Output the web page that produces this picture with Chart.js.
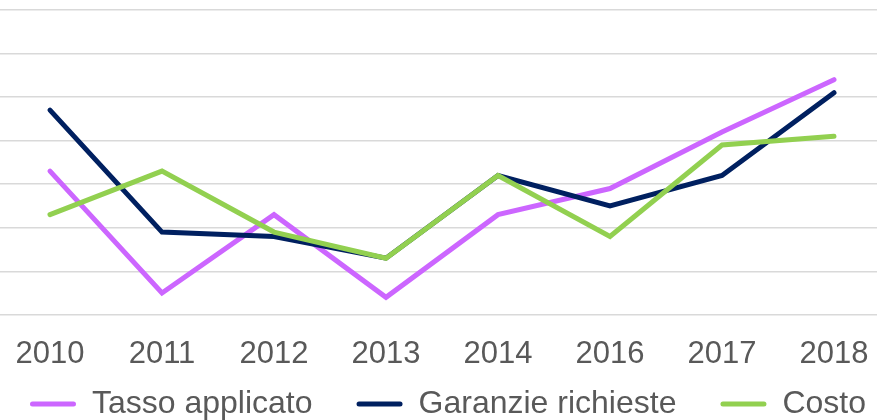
<!DOCTYPE html>
<html>
<head>
<meta charset="utf-8">
<script src="https://cdn.jsdelivr.net/npm/chart.js@4/dist/chart.umd.min.js"></script>
<style>
  html, body { margin: 0; padding: 0; background: #fff; overflow: hidden; }
  #wrap { position: absolute; left: -52px; top: 0; width: 1000px; height: 420px; }
</style>
</head>
<body>
<div id="wrap"><canvas id="chart"></canvas></div>
<script>
const years = ['2010', '2011', '2012', '2013', '2014', '2016', '2017', '2018'];
const tassoApplicato = [3.3, 0.5, 2.3, 0.4, 2.3, 2.9, 4.2, 5.4];
const garanzieRichieste = [4.7, 1.9, 1.8, 1.3, 3.2, 2.5, 3.2, 5.1];
const costo = [2.3, 3.3, 1.9, 1.3, 3.2, 1.8, 3.9, 4.1];

const toPoints = arr => arr.map((v, i) => ({ x: i, y: v }));

Chart.defaults.font.family = "'Liberation Sans', Arial, sans-serif";
Chart.defaults.font.size = 31;
Chart.defaults.color = '#595959';

function series(label, data, color, order) {
    return {
        label: label,
        data: toPoints(data),
        borderColor: color,
        backgroundColor: color,
        borderWidth: 5,
        borderCapStyle: 'round',
        pointRadius: 0,
        tension: 0,
        order: order
    };
}

// the legend keeps wide gaps between items, so stretch its box up over the empty space
const liftLegend = {
    id: 'liftLegend',
    afterLayout(chart) {
        chart.legend.top -= 42;
    }
};

const ctx = document.getElementById('chart').getContext('2d');
new Chart(ctx, {
    type: 'line',
    data: {
        datasets: [
            series('Tasso applicato', tassoApplicato, '#CC66FF', 3),
            series('Garanzie richieste', garanzieRichieste, '#002060', 2),
            series('Costo', costo, '#92D050', 1)
        ]
    },
    options: {
        responsive: true,
        maintainAspectRatio: false,
        animation: false,
        layout: { padding: { top: 10, left: 0, right: 0, bottom: 0 } },
        scales: {
            x: {
                type: 'linear',
                min: -102 / 112,
                max: 7 + 114 / 112,
                afterBuildTicks: s => { s.ticks = years.map((_, i) => ({ value: i })); },
                ticks: {
                    callback: v => years[v],
                    maxRotation: 0,
                    autoSkip: false,
                    padding: 13
                },
                grid: { display: false },
                border: { display: false }
            },
            y: {
                min: 0,
                max: 7,
                ticks: { display: false, stepSize: 1 },
                grid: { color: '#D9D9D9', lineWidth: 1.5, drawTicks: false },
                border: { display: false },
                afterFit: s => { s.width = 0; }
            }
        },
        plugins: {
            tooltip: { enabled: false },
            legend: {
                position: 'bottom',
                maxHeight: 34,
                labels: {
                    font: { size: 32 },
                    boxWidth: 46,
                    boxHeight: 5,
                    padding: 44,
                    useBorderRadius: true,
                    borderRadius: 2.5,
                    sort: (a, b) => a.datasetIndex - b.datasetIndex,
                    generateLabels: chart => Chart.defaults.plugins.legend.labels.generateLabels(chart)
                        .map(l => ({ ...l, lineWidth: 0 }))
                }
            }
        }
    },
    plugins: [liftLegend]
});
</script>
</body>
</html>
